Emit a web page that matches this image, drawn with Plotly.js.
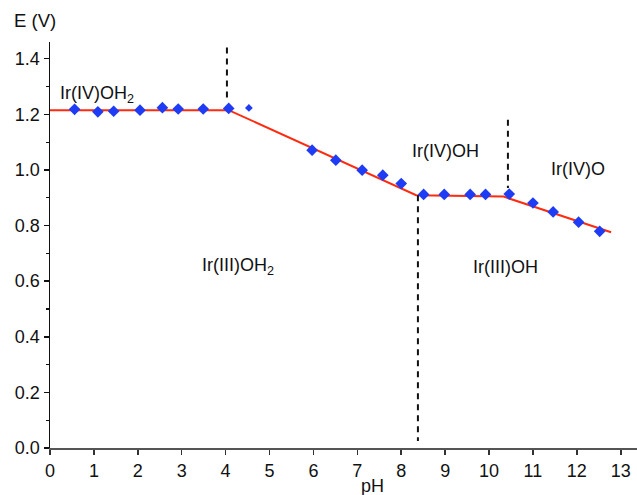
<!DOCTYPE html>
<html>
<head>
<meta charset="utf-8">
<script src="https://cdn.plot.ly/plotly-3.0.1.min.js"></script>
<style>html,body{margin:0;padding:0;background:#fff;}#chart{width:637px;height:495px;}</style>
</head>
<body>
<div id="chart"></div>
<script>
// Measured data points (pH, E in V)
var pH = [0.56, 1.09, 1.45, 2.05, 2.56, 2.92, 3.49, 4.07,
          5.97, 6.51, 7.11, 7.58, 8.00, 8.51, 8.98, 9.57, 9.92, 10.46,
          11.00, 11.46, 12.04, 12.52];
var E = [1.218, 1.209, 1.211, 1.215, 1.224, 1.219, 1.219, 1.221,
         1.071, 1.035, 0.999, 0.981, 0.951, 0.912, 0.912, 0.912, 0.912, 0.913,
         0.881, 0.849, 0.812, 0.779];
// Small extra point
var pHSmall = [4.53];
var ESmall = [1.223];
// Fitted red line vertices
var fitPH = [0, 4.07, 8.34, 10.33, 12.78];
var fitE = [1.215, 1.215, 0.909, 0.904, 0.776];
// Dashed boundaries
var dash1PH = [4.03, 4.03], dash1E = [1.44, 1.25];
var dash2PH = [8.38, 8.38], dash2E = [0.909, 0.025];
var dash3PH = [10.43, 10.43], dash3E = [1.18, 0.935];
// Region labels
var labelText = ['Ir(IV)OH<sub>2</sub>', 'Ir(III)OH<sub>2</sub>', 'Ir(IV)OH', 'Ir(IV)O', 'Ir(III)OH'];
var labelPH = [0.18, 3.42, 8.2, 11.36, 9.6];
var labelE = [1.272, 0.651, 1.068, 1.005, 0.651];
// Axis ticks
var xTicks = [0,1,2,3,4,5,6,7,8,9,10,11,12,13];
var yTicks = [0.0,0.2,0.4,0.6,0.8,1.0,1.2,1.4];
var yTickText = ['0.0','0.2','0.4','0.6','0.8','1.0','1.2','1.4'];

var FONT = 'Liberation Sans, Arial, Helvetica, sans-serif';

var traces = [
  {x: fitPH, y: fitE, mode: 'lines', line: {color: '#ff2a10', width: 2}, hoverinfo: 'skip'},
  {x: dash1PH, y: dash1E, mode: 'lines', line: {color: '#111', width: 2, dash: '6px,5px'}},
  {x: dash2PH, y: dash2E, mode: 'lines', line: {color: '#111', width: 2, dash: '6px,5px'}},
  {x: dash3PH, y: dash3E, mode: 'lines', line: {color: '#111', width: 2, dash: '6px,5px'}},
  {x: pH, y: E, mode: 'markers', marker: {symbol: 'diamond', size: 9, color: '#1f3cf5'}},
  {x: pHSmall, y: ESmall, mode: 'markers', marker: {symbol: 'diamond', size: 6, color: '#1f3cf5'}}
];

var annotations = labelText.map(function(t, i) {
  return {x: labelPH[i], y: labelE[i], xref: 'x', yref: 'y', text: t, showarrow: false,
          xanchor: 'left', yanchor: 'middle', font: {family: FONT, size: 18, color: '#111'}};
});
annotations.push({x: -0.0647, y: 1.053, xref: 'paper', yref: 'paper', text: 'E (V)', showarrow: false,
  xanchor: 'left', yanchor: 'middle', font: {family: FONT, size: 18.5, color: '#111'}});
annotations.push({x: 0.5486, y: -0.094, xref: 'paper', yref: 'paper', text: 'pH', showarrow: false,
  xanchor: 'center', yanchor: 'middle', font: {family: FONT, size: 18, color: '#111'}});

var layout = {
  width: 637, height: 495,
  margin: {l: 50, r: 0, t: 42, b: 47},
  paper_bgcolor: '#fff', plot_bgcolor: '#fff',
  showlegend: false,
  font: {family: FONT, size: 18, color: '#111'},
  xaxis: {
    range: [0, 13.37], tickvals: xTicks, ticktext: xTicks.map(String),
    showgrid: false, zeroline: false, showline: true, linecolor: '#555', linewidth: 2,
    ticks: 'outside', ticklen: 5, tickwidth: 1.5, tickcolor: '#333',
    tickfont: {family: FONT, size: 18, color: '#111'}
  },
  yaxis: {
    range: [0, 1.46], tickvals: yTicks, ticktext: yTickText,
    showgrid: false, zeroline: false, showline: true, linecolor: '#111', linewidth: 1.5,
    ticks: 'outside', ticklen: 5, tickwidth: 1.5, tickcolor: '#111',
    tickfont: {family: FONT, size: 18, color: '#111'},
    minor: {tickvals: [0.1,0.3,0.5,0.7,0.9,1.1,1.3], ticks: 'outside', ticklen: 3, tickwidth: 1.2, tickcolor: '#111', showgrid: false}
  },
  annotations: annotations
};

Plotly.newPlot('chart', traces, layout, {displayModeBar: false, staticPlot: true});
</script>
</body>
</html>
